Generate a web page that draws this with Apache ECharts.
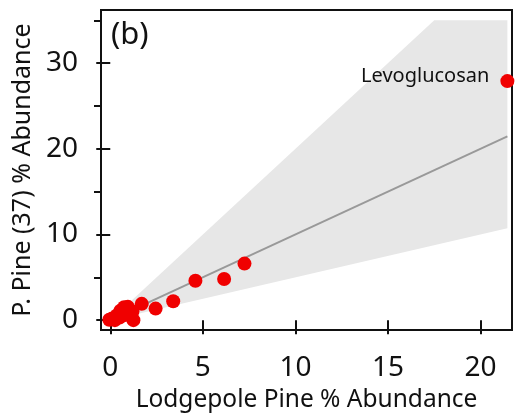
<!DOCTYPE html>
<html>
<head>
<meta charset="utf-8">
<script src="https://cdn.jsdelivr.net/npm/echarts@6/dist/echarts.min.js"></script>
<style>html,body{margin:0;padding:0;background:#fff}#c{width:517px;height:418px}</style>
</head>
<body>
<div id="c"></div>
<script>
// Data
const pointsX = [21.45, 7.25, 6.15, 4.6, 3.4, 2.45, 1.7, 1.25, 1.2, 0.95, 0.75, 0.8, 0.55, 0.35, 0.1, -0.05, 0.25, 0.5];
const pointsY = [27.9, 6.6, 4.8, 4.6, 2.2, 1.35, 1.9, 0.0, 1.0, 1.55, 1.5, 0.6, 1.1, 0.55, 0.2, 0.05, 0.0, 0.3];
const pointNames = ['Levoglucosan', '', '', '', '', '', '', '', '', '', '', '', '', '', '', '', '', ''];
const oneToOneX = [0, 21.45];
const oneToOneY = [0, 21.45];
const coneX = [0, 17.5, 21.45, 21.45];
const coneY = [0, 35, 35, 10.72];
const xTicks = [0, 5, 10, 15, 20];
const yMajorTicks = [0, 10, 20, 30];
const yMinorTicks = [5, 15, 25, 35];

const FONT = 'Noto Sans';
const chart = echarts.init(document.getElementById('c'), null, {renderer: 'canvas'});
const conePoly = coneX.map((x, i) => [x, coneY[i]]);
const option = {
  animation: false,
  grid: {left: 101, right: 5, top: 10, bottom: 86, show: true, borderColor: '#111', borderWidth: 2, backgroundColor: 'transparent'},
  xAxis: {
    type: 'value', min: -0.5, max: 21.7,
    name: 'Lodgepole Pine % Abundance', nameLocation: 'middle', nameGap: 58,
    nameTextStyle: {fontFamily: FONT, fontSize: 24.5, color: '#111'},
    axisLine: {show: false},
    axisTick: {show: true, inside: false, customValues: xTicks, length: 14, lineStyle: {color: '#111', width: 2}},
    axisLabel: {customValues: xTicks, fontFamily: FONT, fontSize: 28, color: '#111', margin: 24},
    splitLine: {show: false}
  },
  yAxis: [{
    type: 'value', min: -1.15, max: 36.2,
    name: 'P. Pine (37) % Abundance', nameLocation: 'middle', nameGap: 66, nameRotate: 90,
    nameTextStyle: {fontFamily: FONT, fontSize: 25, color: '#111'},
    axisLine: {show: false},
    axisTick: {show: true, inside: false, customValues: yMajorTicks, length: 14, lineStyle: {color: '#111', width: 2}},
    axisLabel: {customValues: yMajorTicks, fontFamily: FONT, fontSize: 28, color: '#111', margin: 23},
    splitLine: {show: false}
  }, {
    type: 'value', min: -1.15, max: 36.2, position: 'left',
    axisLine: {show: false},
    axisTick: {show: true, inside: false, customValues: yMinorTicks, length: 7, lineStyle: {color: '#111', width: 2}},
    axisLabel: {show: false},
    splitLine: {show: false}
  }],
  series: [
    {
      type: 'custom', silent: true, z: 1, clip: true,
      data: [0],
      renderItem: function (params, api) {
        const pts = conePoly.map(p => api.coord(p));
        return {type: 'polygon', shape: {points: pts}, style: {fill: '#e7e7e7'}};
      }
    },
    {
      type: 'line', data: oneToOneX.map((x, i) => [x, oneToOneY[i]]), showSymbol: false, z: 2,
      lineStyle: {color: '#999999', width: 2}
    },
    {
      type: 'scatter', z: 3, symbolSize: 14, clip: true,
      data: pointsX.map((x, i) => ({value: [x, pointsY[i]], name: pointNames[i]})),
      itemStyle: {color: '#f00000', opacity: 1},
      label: {show: true, position: 'left', distance: 11, offset: [0, -5], formatter: p => p.name,
        fontFamily: FONT, fontSize: 20, color: '#111'}
    }
  ],
  graphic: [
    {type: 'text', left: 111, top: 20, style: {text: '(b)', fontFamily: FONT, fontSize: 31, fill: '#111'}},
    {type: 'text', left: 477, top: 158, style: {text: '1:1', fontFamily: FONT, fontSize: 21, fill: '#888'}}
  ]
};
chart.setOption(option);
</script>
</body>
</html>
